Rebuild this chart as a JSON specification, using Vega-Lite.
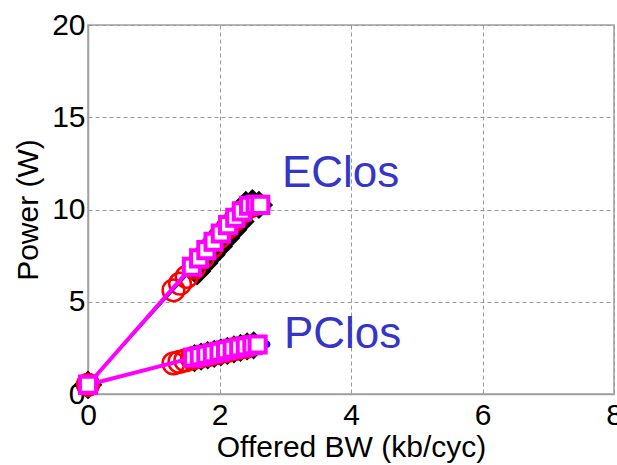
{
  "$schema": "https://vega.github.io/schema/vega-lite/v6.json",
  "width": 526,
  "height": 369,
  "autosize": "none",
  "padding": {"left": 88, "top": 25, "right": 3, "bottom": 71},
  "background": "white",
  "config": {
    "font": "Liberation Sans",
    "view": {"stroke": "#a0a0a0", "strokeWidth": 1.5},
    "axis": {
      "domainColor": "#a0a0a0",
      "domainWidth": 1.5,
      "ticks": false,
      "grid": true,
      "gridColor": "#999999",
      "gridDash": [4, 3],
      "gridWidth": 1,
      "labelFlush": false,
      "labelFont": "Liberation Sans",
      "labelFontSize": 30,
      "labelColor": "#000000",
      "titleFont": "Liberation Sans",
      "titleFontSize": 30,
      "titleFontWeight": "normal",
      "titleColor": "#000000"
    }
  },
  "datasets": {
    "series": [
      {"g": "E", "s": "blue", "x": 0, "y": 0.5},
      {"g": "E", "s": "blue", "x": 1.6, "y": 6.8},
      {"g": "E", "s": "blue", "x": 2.0, "y": 8.5},
      {"g": "E", "s": "blue", "x": 2.35, "y": 9.8},
      {"g": "E", "s": "blue", "x": 2.72, "y": 10.05},
      {"g": "P", "s": "blue", "x": 0, "y": 0.5},
      {"g": "P", "s": "blue", "x": 1.6, "y": 1.95},
      {"g": "P", "s": "blue", "x": 2.2, "y": 2.4},
      {"g": "P", "s": "blue", "x": 2.72, "y": 2.7},

      {"g": "E", "s": "black", "x": 0, "y": 0.5},
      {"g": "E", "s": "black", "x": 1.66, "y": 6.65},
      {"g": "E", "s": "black", "x": 1.77, "y": 7.1},
      {"g": "E", "s": "black", "x": 1.88, "y": 7.55},
      {"g": "E", "s": "black", "x": 1.99, "y": 8.0},
      {"g": "E", "s": "black", "x": 2.1, "y": 8.45},
      {"g": "E", "s": "black", "x": 2.21, "y": 8.9},
      {"g": "E", "s": "black", "x": 2.32, "y": 9.35},
      {"g": "E", "s": "black", "x": 2.4, "y": 10.25},
      {"g": "E", "s": "black", "x": 2.5, "y": 10.35},
      {"g": "E", "s": "black", "x": 2.6, "y": 10.25},
      {"g": "P", "s": "black", "x": 0, "y": 0.5},
      {"g": "P", "s": "black", "x": 1.62, "y": 1.95},
      {"g": "P", "s": "black", "x": 1.72, "y": 2.03},
      {"g": "P", "s": "black", "x": 1.82, "y": 2.1},
      {"g": "P", "s": "black", "x": 1.92, "y": 2.18},
      {"g": "P", "s": "black", "x": 2.02, "y": 2.26},
      {"g": "P", "s": "black", "x": 2.12, "y": 2.34},
      {"g": "P", "s": "black", "x": 2.22, "y": 2.42},
      {"g": "P", "s": "black", "x": 2.32, "y": 2.5},
      {"g": "P", "s": "black", "x": 2.42, "y": 2.58},
      {"g": "P", "s": "black", "x": 2.52, "y": 2.64},

      {"g": "E", "s": "red", "x": 0, "y": 0.5},
      {"g": "E", "s": "red", "x": 1.3, "y": 5.62},
      {"g": "E", "s": "red", "x": 1.4, "y": 5.98},
      {"g": "E", "s": "red", "x": 1.5, "y": 6.35},
      {"g": "E", "s": "red", "x": 1.62, "y": 6.85},
      {"g": "E", "s": "red", "x": 1.75, "y": 7.4},
      {"g": "E", "s": "red", "x": 1.88, "y": 7.95},
      {"g": "E", "s": "red", "x": 2.0, "y": 8.5},
      {"g": "E", "s": "red", "x": 2.12, "y": 9.0},
      {"g": "E", "s": "red", "x": 2.24, "y": 9.45},
      {"g": "E", "s": "red", "x": 2.36, "y": 9.9},
      {"g": "E", "s": "red", "x": 2.46, "y": 10.15},
      {"g": "P", "s": "red", "x": 0, "y": 0.5},
      {"g": "P", "s": "red", "x": 1.3, "y": 1.66},
      {"g": "P", "s": "red", "x": 1.39, "y": 1.74},
      {"g": "P", "s": "red", "x": 1.48, "y": 1.82},
      {"g": "P", "s": "red", "x": 1.58, "y": 1.92},
      {"g": "P", "s": "red", "x": 1.7, "y": 2.02},
      {"g": "P", "s": "red", "x": 1.84, "y": 2.12},
      {"g": "P", "s": "red", "x": 1.98, "y": 2.23},
      {"g": "P", "s": "red", "x": 2.12, "y": 2.34},
      {"g": "P", "s": "red", "x": 2.26, "y": 2.45},
      {"g": "P", "s": "red", "x": 2.4, "y": 2.55},

      {"g": "E", "s": "magenta", "x": 0, "y": 0.5},
      {"g": "E", "s": "magenta", "x": 1.58, "y": 6.9},
      {"g": "E", "s": "magenta", "x": 1.69, "y": 7.35},
      {"g": "E", "s": "magenta", "x": 1.8, "y": 7.8},
      {"g": "E", "s": "magenta", "x": 1.91, "y": 8.25},
      {"g": "E", "s": "magenta", "x": 2.02, "y": 8.7},
      {"g": "E", "s": "magenta", "x": 2.13, "y": 9.15},
      {"g": "E", "s": "magenta", "x": 2.24, "y": 9.55},
      {"g": "E", "s": "magenta", "x": 2.34, "y": 9.9},
      {"g": "E", "s": "magenta", "x": 2.45, "y": 10.2},
      {"g": "E", "s": "magenta", "x": 2.55, "y": 10.25},
      {"g": "E", "s": "magenta", "x": 2.62, "y": 10.25},
      {"g": "P", "s": "magenta", "x": 0, "y": 0.5},
      {"g": "P", "s": "magenta", "x": 1.6, "y": 1.97},
      {"g": "P", "s": "magenta", "x": 1.7, "y": 2.05},
      {"g": "P", "s": "magenta", "x": 1.8, "y": 2.13},
      {"g": "P", "s": "magenta", "x": 1.9, "y": 2.21},
      {"g": "P", "s": "magenta", "x": 2.0, "y": 2.29},
      {"g": "P", "s": "magenta", "x": 2.1, "y": 2.37},
      {"g": "P", "s": "magenta", "x": 2.2, "y": 2.45},
      {"g": "P", "s": "magenta", "x": 2.3, "y": 2.52},
      {"g": "P", "s": "magenta", "x": 2.4, "y": 2.58},
      {"g": "P", "s": "magenta", "x": 2.5, "y": 2.64},
      {"g": "P", "s": "magenta", "x": 2.58, "y": 2.68}
    ],
    "labels": [
      {"name": "EClos", "x": 2.95, "y": 11.95},
      {"name": "PClos", "x": 2.98, "y": 3.2}
    ]
  },
  "encoding": {
    "x": {
      "field": "x", "type": "quantitative",
      "scale": {"domain": [0, 8], "nice": false, "zero": false},
      "axis": {"values": [0, 2, 4, 6, 8], "title": "Offered BW (kb/cyc)", "labelPadding": 6, "titlePadding": 2}
    },
    "y": {
      "field": "y", "type": "quantitative",
      "scale": {"domain": [0, 20], "nice": false, "zero": false},
      "axis": {"values": [0, 5, 10, 15, 20], "title": "Power (W)", "labelPadding": 3, "titlePadding": 8}
    }
  },
  "layer": [
    {
      "data": {"name": "series"},
      "transform": [{"filter": "datum.s == 'blue'"}],
      "mark": {"type": "line", "color": "#0000ff", "strokeWidth": 1.5, "point": {"filled": true, "color": "#0000ff", "size": 50}},
      "encoding": {"detail": {"field": "g"}}
    },
    {
      "data": {"name": "series"},
      "transform": [{"filter": "datum.s == 'black'"}],
      "mark": {"type": "point", "shape": "diamond", "filled": true, "color": "#000000", "size": 800, "opacity": 1}
    },
    {
      "data": {"name": "series"},
      "transform": [{"filter": "datum.s == 'red'"}],
      "mark": {"type": "point", "shape": "circle", "filled": false, "color": "#ff0000", "size": 470, "strokeWidth": 2.5, "opacity": 1}
    },
    {
      "data": {"name": "series"},
      "transform": [{"filter": "datum.s == 'magenta'"}],
      "mark": {"type": "line", "color": "#ff00ff", "strokeWidth": 4},
      "encoding": {"detail": {"field": "g"}}
    },
    {
      "data": {"name": "series"},
      "transform": [{"filter": "datum.s == 'magenta'"}],
      "mark": {"type": "point", "shape": "square", "filled": true, "fill": "#ffffff", "stroke": "#ff00ff", "strokeWidth": 4, "size": 260, "opacity": 1}
    },
    {
      "data": {"name": "labels"},
      "mark": {"type": "text", "align": "left", "baseline": "middle", "font": "Liberation Sans", "fontSize": 44, "color": "#3535c8"},
      "encoding": {"text": {"field": "name"}}
    }
  ]
}
